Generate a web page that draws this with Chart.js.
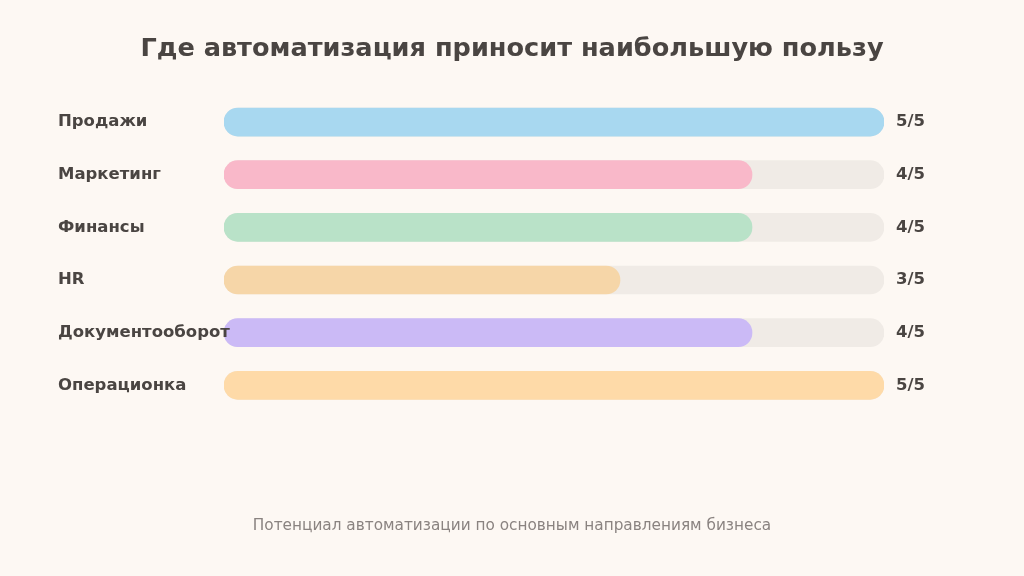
<!DOCTYPE html>
<html>
<head>
<meta charset="utf-8">
<script src="https://cdn.jsdelivr.net/npm/chart.js@4"></script>
<style>
  html, body { margin: 0; padding: 0; background: #fdf8f3; }
  #wrap { width: 1024px; height: 576px; }
</style>
</head>
<body>
<div id="wrap"><canvas id="chart"></canvas></div>
<script>
var categories = ['Продажи', 'Маркетинг', 'Финансы', 'HR', 'Документооборот', 'Операционка'];
var scores = [5, 4, 4, 3, 4, 5];
var maxScore = 5;
var barColors = ['#a8d8f0', '#f9b8c9', '#b9e2c8', '#f6d6a8', '#cbbaf6', '#fedaa8'];
var scoreLabels = scores.map(function (v) { return v + '/' + maxScore; });

var textColor = '#4a4542';
var fontFamily = '"DejaVu Sans", sans-serif';
var labelColWidth = 166;

var chart = new Chart(document.getElementById('chart'), {
  type: 'bar',
  data: {
    labels: categories,
    datasets: [
      {
        label: 'track',
        data: categories.map(function () { return maxScore; }),
        backgroundColor: '#f0ebe6',
        barThickness: 28,
        borderRadius: 14,
        borderSkipped: false,
        grouped: false,
        order: 2
      },
      {
        label: 'score',
        data: scores,
        backgroundColor: barColors,
        barThickness: 28,
        borderRadius: 14,
        borderSkipped: false,
        grouped: false,
        order: 1
      }
    ]
  },
  options: {
    indexAxis: 'y',
    responsive: true,
    maintainAspectRatio: false,
    animation: false,
    // symmetric side padding keeps title/subtitle centred on the page
    layout: { padding: { left: 58, right: 58, top: 0, bottom: 0 } },
    plugins: {
      legend: { display: false },
      tooltip: { enabled: false },
      title: {
        display: true,
        text: 'Где автоматизация приносит наибольшую пользу',
        color: textColor,
        font: { family: fontFamily, size: 25.6, weight: 'bold' },
        padding: { top: 33.5, bottom: 31.5 }
      },
      subtitle: {
        display: true,
        position: 'bottom',
        text: 'Потенциал автоматизации по основным направлениям бизнеса',
        color: '#8a8380',
        font: { family: fontFamily, size: 15.3 },
        padding: { top: 105.5, bottom: 40.5 }
      }
    },
    scales: {
      x: { display: false, min: 0, max: maxScore },
      y: {
        position: 'left',
        grid: { display: false },
        border: { display: false },
        afterFit: function (axis) { axis.width = labelColWidth; },
        ticks: {
          // mirrored labels are not clipped, so the long one can run over the bar
          mirror: true,
          padding: -labelColWidth,
          z: 1,
          color: textColor,
          font: { family: fontFamily, size: 16.5, weight: 'bold' }
        }
      },
      y2: {
        type: 'category',
        position: 'right',
        labels: scoreLabels,
        grid: { display: false },
        border: { display: false },
        afterFit: function (axis) { axis.width = 82; },
        ticks: {
          padding: 4,
          color: textColor,
          font: { family: fontFamily, size: 16.5, weight: 'bold' }
        }
      }
    }
  }
});
</script>
</body>
</html>
